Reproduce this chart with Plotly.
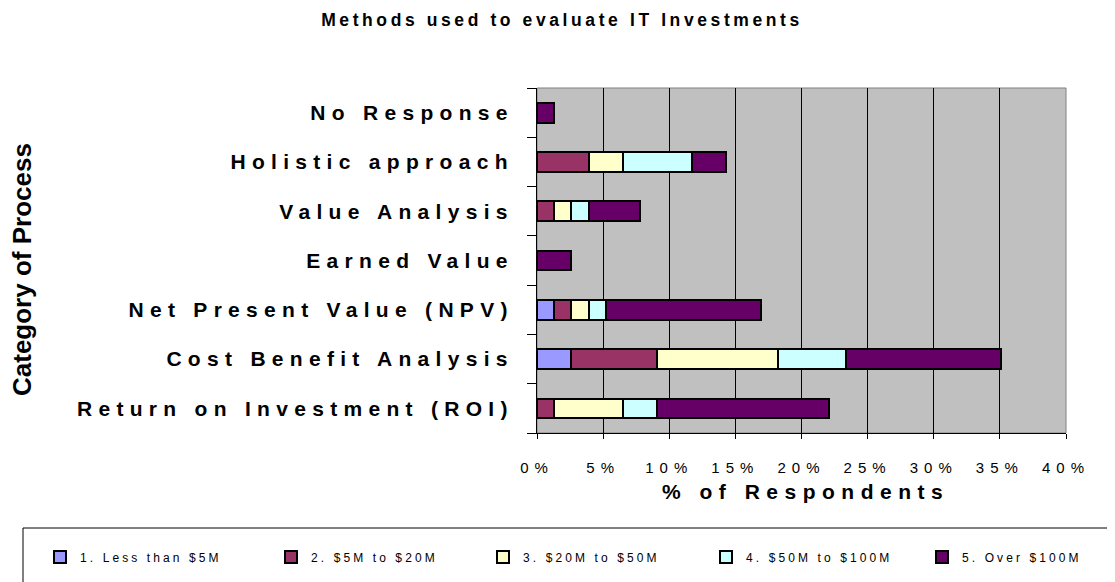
import plotly.graph_objects as go

# ---------------- data ----------------
CATEGORIES = [
    "Return on Investment (ROI)",
    "Cost Benefit Analysis",
    "Net Present Value (NPV)",
    "Earned Value",
    "Value Analysis",
    "Holistic approach",
    "No Response",
]
SERIES_NAMES = [
    "1. Less than $5M",
    "2. $5M to $20M",
    "3. $20M to $50M",
    "4. $50M to $100M",
    "5. Over $100M",
]
LESS_THAN_5M = [0, 2.6, 1.3, 0, 0, 0, 0]
FROM_5M_TO_20M = [1.3, 6.5, 1.3, 0, 1.3, 3.9, 0]
FROM_20M_TO_50M = [5.2, 9.1, 1.3, 0, 1.3, 2.6, 0]
FROM_50M_TO_100M = [2.6, 5.2, 1.3, 0, 1.3, 5.2, 0]
OVER_100M = [13.0, 11.7, 11.7, 2.6, 3.9, 2.6, 1.3]
SERIES_VALUES = [LESS_THAN_5M, FROM_5M_TO_20M, FROM_20M_TO_50M, FROM_50M_TO_100M, OVER_100M]

X_TICK_VALUES = [0, 5, 10, 15, 20, 25, 30, 35, 40]
X_TICK_LABELS = ["0%", "5%", "10%", "15%", "20%", "25%", "30%", "35%", "40%"]

TITLE = "Methods used to evaluate IT Investments"
X_TITLE = "% of Respondents"
Y_TITLE = "Category of Process"

# ---------------- style ----------------
COLORS = ["#9999FF", "#993366", "#FFFFCC", "#CCFFFF", "#660066"]
FONT = "Liberation Sans, Arial, sans-serif"
OFF = 8                      # page body margin around the figure
PAGE_W, PAGE_H = 1115, 582
W, H = PAGE_W - OFF, PAGE_H - OFF
PLOT_LEFT, PLOT_RIGHT, PLOT_TOP, PLOT_BOTTOM = 537, 1066, 88, 433   # page px
L, T = PLOT_LEFT - OFF, PLOT_TOP - OFF
R, B = W - (PLOT_RIGHT - OFF), H - (PLOT_BOTTOM - OFF)
PW, PH = W - L - R, H - T - B


def xp(px):
    return (px - OFF - L) / PW


def yp(py):
    return (H - B - (py - OFF)) / PH


def cx(px):
    return (px - OFF) / W


def cy(py):
    return 1 - (py - OFF) / H


def spaced(text, px):
    return f'<span style="letter-spacing:{px}px">{text}</span>'


LEGEND_MARKER_LEFT = [55, 286, 498, 721, 937]
LEGEND_Y = 557

fig = go.Figure()
for i, (name, vals) in enumerate(zip(SERIES_NAMES, SERIES_VALUES)):
    lg = "legend" if i == 0 else f"legend{i + 1}"
    fig.add_trace(go.Bar(
        y=CATEGORIES, x=vals, orientation="h", name=spaced(name, 3.1),
        marker=dict(color=COLORS[i], line=dict(color="black", width=2)),
        legend=lg, hoverinfo="x+y",
    ))

legends = {}
for i, mx in enumerate(LEGEND_MARKER_LEFT):
    key = "legend" if i == 0 else f"legend{i + 1}"
    legends[key] = dict(
        xref="container", yref="container",
        x=cx(mx - 15), y=cy(LEGEND_Y),
        xanchor="left", yanchor="middle",
        bgcolor="rgba(0,0,0,0)", borderwidth=0,
        font=dict(family=FONT, size=12, color="black"),
    )

fig.update_layout(
    width=W, height=H,
    margin=dict(l=L, r=R, t=T, b=B, autoexpand=False),
    paper_bgcolor="white", plot_bgcolor="#C0C0C0",
    barmode="stack", bargap=0.6,
    title=dict(
        text=spaced(TITLE, 3.6), xref="container", yref="container",
        x=cx(562), y=cy(20), xanchor="center", yanchor="middle",
        font=dict(family=FONT, size=17.5, color="black", weight="bold"),
    ),
    xaxis=dict(
        range=[0, 40], tickmode="array", tickvals=X_TICK_VALUES,
        ticktext=[spaced(t, 6) for t in X_TICK_LABELS],
        showgrid=True, gridcolor="black", gridwidth=1,
        showline=True, linecolor="black", linewidth=1,
        ticks="outside", ticklen=5, tickcolor="black",
        ticklabelstandoff=16,
        tickfont=dict(family=FONT, size=15, color="black"),
        zeroline=False, fixedrange=True,
    ),
    yaxis=dict(
        type="category", categoryorder="array", categoryarray=CATEGORIES,
        tickmode="array", tickvals=CATEGORIES,
        ticktext=[spaced(c, 6.3) for c in CATEGORIES],
        tickson="boundaries", ticks="outside", ticklen=9, tickcolor="black",
        showline=True, linecolor="black", linewidth=1,
        showgrid=False, ticklabelstandoff=18,
        tickfont=dict(family=FONT, size=21, color="black", weight="bold"),
        fixedrange=True,
    ),
    showlegend=True,
    **legends,
    shapes=[
        dict(type="rect", xref="paper", yref="paper", x0=0, x1=1, y0=0, y1=1,
             line=dict(color="#808080", width=1), fillcolor="rgba(0,0,0,0)", layer="below"),
        dict(type="rect", xref="paper", yref="paper",
             x0=xp(23), x1=xp(PAGE_W + 20), y0=yp(PAGE_H + 20), y1=yp(528),
             line=dict(color="black", width=1), fillcolor="rgba(0,0,0,0)"),
    ],
    annotations=[
        dict(text=spaced(X_TITLE, 6.5), xref="paper", yref="paper",
             x=xp(805), y=yp(491), xanchor="center", yanchor="middle", showarrow=False,
             font=dict(family=FONT, size=21, color="black", weight="bold")),
        dict(text=Y_TITLE, xref="paper", yref="paper", textangle=-90,
             x=xp(22), y=yp(270), xanchor="center", yanchor="middle", showarrow=False,
             font=dict(family=FONT, size=26, color="black", weight="bold")),
    ],
)

fig.write_html("out.html")
